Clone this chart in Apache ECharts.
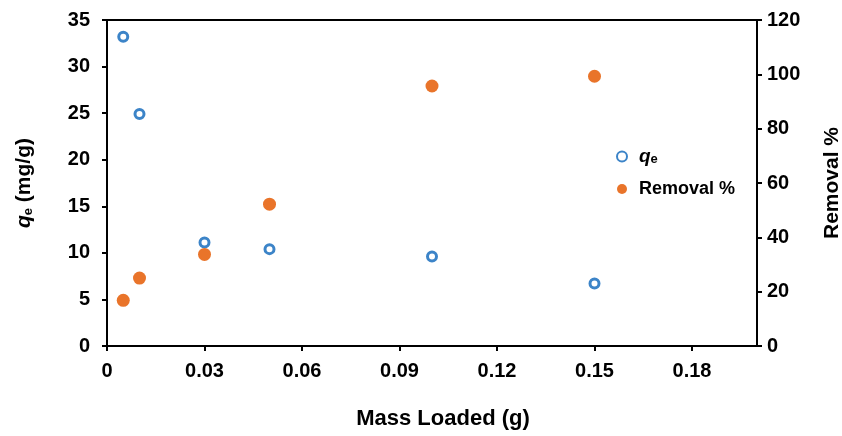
<!DOCTYPE html>
<html>
<head>
<meta charset="utf-8">
<script src="https://cdn.jsdelivr.net/npm/echarts@6/dist/echarts.min.js"></script>
<style>html,body{margin:0;padding:0;background:#fff;overflow:hidden}#c{width:842px;height:436px}</style>
</head>
<body>
<div id="c"></div>
<script>
const massLoaded = [0.005, 0.01, 0.03, 0.05, 0.10, 0.15];
const qeValues = [33.2, 24.9, 11.1, 10.4, 9.6, 6.7];
const removalValues = [16.8, 25.0, 33.7, 52.2, 95.7, 99.3];
const seriesNames = ['qe', 'Removal %'];

const FONT = '"Liberation Sans", Arial, sans-serif';
const BLUE = '#3C84C8';
const ORANGE = '#E9742A';

const chart = echarts.init(document.getElementById('c'), null, {renderer: 'canvas'});
const axisBase = {
  axisLine: {show: true, lineStyle: {color: '#000', width: 2}},
  axisTick: {show: true, inside: false, length: 5, lineStyle: {color: '#000', width: 2}},
  splitLine: {show: false},
  axisLabel: {color: '#000', fontFamily: FONT, fontWeight: 'bold', fontSize: 20}
};
chart.setOption({
  animation: false,
  backgroundColor: '#fff',
  grid: {left: 107, right: 85, top: 20, bottom: 90, show: true, borderColor: '#000', borderWidth: 2,
         containLabel: false, outerBoundsMode: 'none'},
  legend: {
    orient: 'vertical', left: 611, top: 142, itemGap: 14, itemWidth: 24, itemHeight: 10,
    data: seriesNames,
    formatter: n => n === 'qe' ? '{q|q}{e|e}' : '{t|' + n + '}',
    textStyle: {
      color: '#000', fontFamily: FONT, fontWeight: 'bold', fontSize: 18,
      rich: {
        q: {fontFamily: FONT, fontWeight: 'bold', fontStyle: 'italic', fontSize: 19, color: '#000'},
        e: {fontFamily: FONT, fontWeight: 'bold', fontSize: 13, color: '#000', padding: [6, 0, 0, 0]},
        t: {fontFamily: FONT, fontWeight: 'bold', fontSize: 18, color: '#000'}
      }
    }
  },
  xAxis: Object.assign({}, axisBase, {
    type: 'value', min: 0, max: 0.2, interval: 0.03,
    name: 'Mass Loaded (g)', nameLocation: 'middle', nameGap: 62,
    nameTextStyle: {color: '#000', fontFamily: FONT, fontWeight: 'bold', fontSize: 22, padding: [0, 0, 0, 22]},
    axisLabel: Object.assign({}, axisBase.axisLabel, {margin: 15, showMaxLabel: false})
  }),
  yAxis: [
    Object.assign({}, axisBase, {
      type: 'value', min: 0, max: 35, interval: 5, position: 'left',
      name: '{q|q}{e|e}{t| (mg/g)}', nameLocation: 'middle', nameGap: 72, nameRotate: 90,
      nameTextStyle: {
        color: '#000', fontFamily: FONT, fontWeight: 'bold', fontSize: 21,
        rich: {
          q: {fontFamily: FONT, fontWeight: 'bold', fontStyle: 'italic', fontSize: 21, color: '#000'},
          e: {fontFamily: FONT, fontWeight: 'bold', fontSize: 13, color: '#000', padding: [8, 0, 0, 0]},
          t: {fontFamily: FONT, fontWeight: 'bold', fontSize: 21, color: '#000'}
        }
      },
      axisLabel: Object.assign({}, axisBase.axisLabel, {margin: 17})
    }),
    Object.assign({}, axisBase, {
      type: 'value', min: 0, max: 120, interval: 20, position: 'right',
      name: 'Removal %', nameLocation: 'middle', nameGap: 65, nameRotate: 90,
      nameTextStyle: {color: '#000', fontFamily: FONT, fontWeight: 'bold', fontSize: 21},
      axisLabel: Object.assign({}, axisBase.axisLabel, {margin: 10})
    })
  ],
  series: [
    {
      name: 'qe', type: 'scatter', yAxisIndex: 0, symbol: 'circle', symbolSize: 9,
      itemStyle: {color: '#fff', borderColor: BLUE, borderWidth: 3, opacity: 1},
      data: massLoaded.map((x, i) => [x, qeValues[i]])
    },
    {
      name: 'Removal %', type: 'scatter', yAxisIndex: 1, symbol: 'circle', symbolSize: 13,
      itemStyle: {color: ORANGE, opacity: 1},
      data: massLoaded.map((x, i) => [x, removalValues[i]])
    }
  ]
});
</script>
</body>
</html>
